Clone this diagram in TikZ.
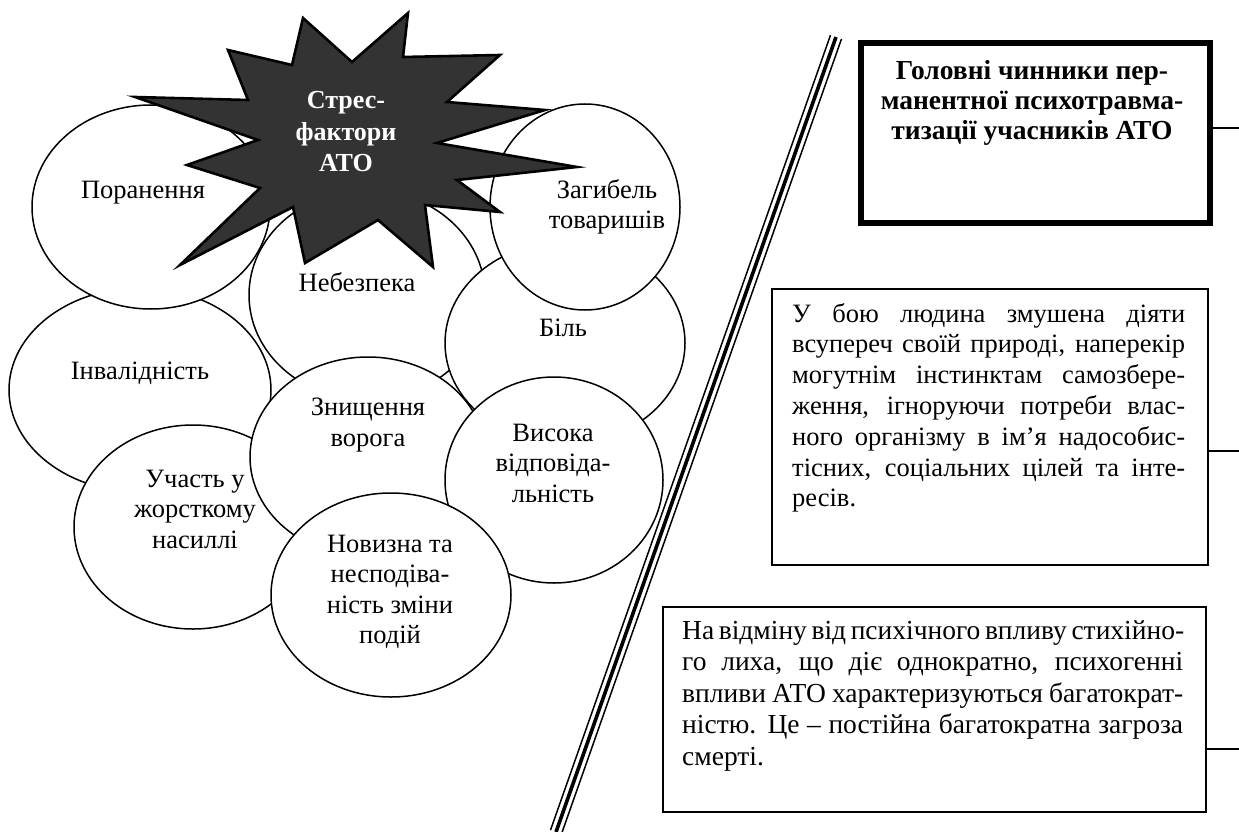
\documentclass[tikz,border=0pt]{standalone}
\usepackage{fontspec}
\setmainfont{Liberation Serif}
\usetikzlibrary{shapes.geometric}
\newcommand\myjline[2]{\makebox[#1][s]{#2}}
\begin{document}
\begin{tikzpicture}[x=1pt,y=-1pt,
  bubble/.style={ellipse, draw, line width=1.5pt, fill=white, inner sep=0pt},
  lbl/.style={font=\fontsize{26.5}{30.5}\selectfont, align=center, inner sep=0pt},
  starlbl/.style={font=\fontsize{26}{31.5}\selectfont\bfseries, text=white, align=center, inner sep=0pt},
  boxthin/.style={draw, line width=1.5pt, fill=white, inner sep=0pt, anchor=north west},
  boxthick/.style={draw, line width=6pt, fill=white, inner sep=0pt, anchor=north west},
  para/.style={font=\fontsize{26.5}{30.8}\selectfont, align=left, inner sep=0pt, anchor=north west},
  tie/.style={line width=1.8pt}
]
\fill[white] (0,0) rectangle (1239,832);
\useasboundingbox (0,0) rectangle (1239,832);

% ellipses (draw order matters)
\node[bubble, minimum width=262pt, minimum height=204pt] (inv) at (140,390) {};
\node[bubble, minimum width=238pt, minimum height=204pt] (por) at (151,207) {};
\node[bubble, minimum width=236pt, minimum height=210pt] (neb) at (367,295) {};
\node[bubble, minimum width=238pt, minimum height=204pt] (uch) at (193,527) {};
\node[bubble, minimum width=236pt, minimum height=200pt] (zny) at (368,457) {};
\node[bubble, minimum width=240pt, minimum height=202pt] (bil) at (565,343) {};
\node[bubble, minimum width=190pt, minimum height=206pt] (zag) at (585,207) {};
\node[bubble, minimum width=218pt, minimum height=206pt] (vys) at (554,480) {};
\node[bubble, minimum width=240pt, minimum height=204pt] (nov) at (391,595) {};

% star
\draw[line width=2.6pt, fill=black!80, line join=miter]
  (408,13) -- (403,57) -- (500,55) -- (447,102) -- (545,110) -- (437,143)
  -- (577,167) -- (457,180) -- (500,212) -- (425,205) -- (433,267)
  -- (378,220) -- (305,263) -- (293,207) -- (180,265) -- (260,188)
  -- (187,165) -- (258,140) -- (135,97) -- (248,100) -- (228,50)
  -- (292,65) -- (303,18) -- (352,62) -- cycle;
\node[starlbl] (stress) at (346,132) {Стрес-\\фактори\\АТО};

% ellipse labels
\node[lbl] (tpor) at (143,193) {Поранення};
\node[lbl] (tneb) at (357,282) {Небезпека};
\node[lbl] (tzag) at (607,207) {Загибель\\товаришів};
\node[lbl] (tbil) at (563,328) {Біль};
\node[lbl] (tinv) at (140,373) {Інвалідність};
\node[lbl] (tzny) at (368,425) {Знищення\\ворога};
\node[lbl] (tvys) at (553,463) {Висока\\відповіда-\\льність};
\node[lbl] (tuch) at (195,509) {Участь у\\жорсткому\\насиллі};
\node[lbl] (tnov) at (390,592) {Новизна та\\несподіва-\\ність зміни\\подій};

% separator (thin - thick - thin)
\coordinate (sepTop) at (836,37);
\coordinate (sepBot) at (556,832);
\draw[line width=3.6pt] (sepTop) -- (sepBot);
\draw[line width=1.5pt] ([shift={(-5.5,-1.9)}]sepTop) -- ([shift={(-5.5,-1.9)}]sepBot);
\draw[line width=1.5pt] ([shift={(5.5,1.9)}]sepTop) -- ([shift={(5.5,1.9)}]sepBot);

% boxes
\node[boxthick, minimum width=349pt, minimum height=180pt] (b1) at (858,40) {};
\node[font=\fontsize{27.5}{30}\selectfont\bfseries, align=center, inner sep=0pt] (t1) at (1032,103)
  {Головні чинники пер-\\манентної психотравма-\\тизації учасників АТО};

\node[boxthin, minimum width=436pt, minimum height=276pt] (b2) at (771,288) {};
\node[para] (t2) at (792,303) {%
\myjline{393pt}{У бою людина змушена діяти}\\
\myjline{393pt}{всупереч своїй природі, наперекір}\\
\myjline{393pt}{могутнім інстинктам самозбере-}\\
\myjline{393pt}{ження, ігноруючи потреби влас-}\\
\myjline{393pt}{ного організму в ім’я надособис-}\\
\myjline{393pt}{тісних, соціальних цілей та інте-}\\
ресів.};

\node[boxthin, minimum width=543pt, minimum height=205pt] (b3) at (662,606) {};
\node[para, font=\fontsize{27.5}{31.5}\selectfont] (t3) at (682,620) {%
\myjline{501pt}{На відміну від психічного впливу стихійно-}\\
\myjline{501pt}{го лиха, що діє однократно, психогенні}\\
\myjline{501pt}{впливи АТО характеризуються багатократ-}\\
\myjline{501pt}{ністю. Це – постійна багатократна загроза}\\
смерті.};

% ties to the right edge
\coordinate (r1) at (1239,128);
\coordinate (r2) at (1239,451);
\coordinate (r3) at (1239,749);
\draw[tie] (r1 -| b1.east) -- (r1);
\draw[tie] (r2 -| b2.east) -- (r2);
\draw[tie] (r3 -| b3.east) -- (r3);
\end{tikzpicture}
\end{document}
